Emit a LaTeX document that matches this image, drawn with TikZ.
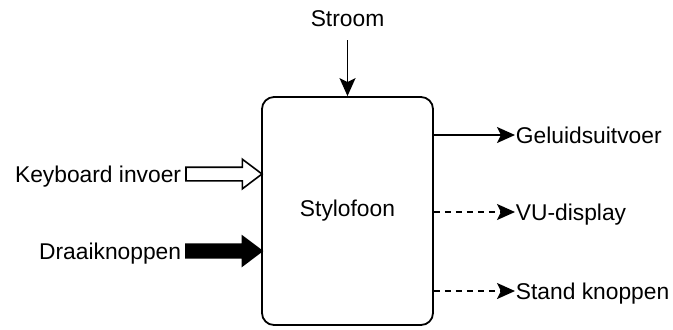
\documentclass[tikz,border=0pt]{standalone}
\usepackage{fontspec}
\setmainfont{Liberation Sans}
\usetikzlibrary{arrows.meta,positioning,shapes.arrows}

\begin{document}
\begin{tikzpicture}[x=0.5pt,y=-0.5pt,line width=0.9pt,
  >={Stealth[length=9pt,width=8pt,inset=2pt]},
  font=\fontsize{11.4}{13.7}\selectfont,
  lbl/.style={inner sep=0pt,text height=8.2pt,text depth=0pt},
  blockarrow/.style={single arrow,draw,line width=0.8pt,outer sep=0pt,minimum height=38pt,
    single arrow head extend=4pt,single arrow tip angle=74,inner xsep=0pt,inner ysep=3pt},
  dashline/.style={dash pattern=on 3pt off 2.5pt}]
  \useasboundingbox (0,0) rectangle (673,329);
  \node[draw,rounded corners=6pt,minimum width=85.5pt,minimum height=114pt] (stylo) at (347.5,211) {Stylofoon};
  % ingangen
  \node[lbl] (stroom) at (347.5,18) {Stroom};
  \coordinate (stroomin) at (347.5,40);
  \draw[->] (stroomin) -- (stylo.north);
  \node[blockarrow,fill=white,anchor=tip] (kbdarrow) at (262,174) {};
  \node[lbl,left=2pt of kbdarrow.tail] (kbd) {Keyboard invoer};
  \node[blockarrow,fill=black,anchor=tip] (knoparrow) at (262,251) {};
  \node[lbl,left=2pt of knoparrow.tail] (knop) {Draaiknoppen};
  % uitgangen
  \node[lbl,anchor=west] (geluid) at (515,135) {Geluidsuitvoer};
  \node[lbl,anchor=west] (vu) at (515,212) {VU-display};
  \node[lbl,anchor=west] (stand) at (515,291) {Stand knoppen};
  \draw[->] (stylo.east |- geluid.west) -- (geluid.west);
  \draw[->,dashline] (stylo.east |- vu.west) -- (vu.west);
  \draw[->,dashline] (stylo.east |- stand.west) -- (stand.west);
\end{tikzpicture}
\end{document}
